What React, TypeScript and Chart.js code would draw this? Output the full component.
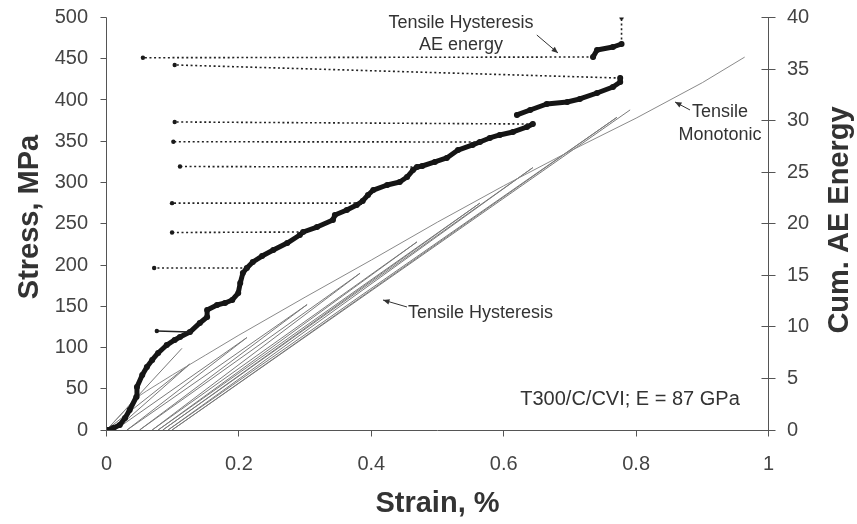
import React, { useEffect, useRef } from 'react';
import { Chart, registerables } from 'chart.js';

Chart.register(...registerables);

// ---- axis ticks ----
const strainTicks = [0, 0.2, 0.4, 0.6, 0.8, 1];
const stressTicks = [0, 50, 100, 150, 200, 250, 300, 350, 400, 450, 500];
const aeTicks = [0, 5, 10, 15, 20, 25, 30, 35, 40];

// ---- tensile monotonic (stress, MPa vs strain, %) ----
const monoStrain = [0, 0.02, 0.045, 0.06, 0.08, 0.1, 0.15, 0.2, 0.3, 0.4, 0.5, 0.6, 0.7, 0.8, 0.9, 0.964];
const monoStress = [0, 17, 39, 47, 57, 67, 91, 115, 161, 206, 252, 296, 338, 378, 421, 452];

// ---- elastic modulus line (E = 87 GPa) ----
const modStrain = [0, 0.114];
const modStress = [0, 99];

// ---- tensile hysteresis loops ----
const hystResidual = [0, 0.013, 0.031, 0.05, 0.069, 0.078, 0.085, 0.093, 0.099];
const hystPeakStrain = [0.126, 0.212, 0.303, 0.383, 0.469, 0.564, 0.644, 0.771, 0.791];
const hystPeakStress = [80, 112, 152, 190, 228, 275, 318, 379, 388];

// ---- cumulative AE energy (right axis) ----
const aeStrain = [
  0.001, 0.01, 0.02, 0.028, 0.035, 0.045, 0.046, 0.054, 0.061, 0.069, 0.078, 0.091, 0.103, 0.111, 0.126,
  0.141, 0.152, 0.152, 0.167, 0.179, 0.19, 0.199, 0.202, 0.206, 0.212, 0.221, 0.235, 0.252, 0.273, 0.292,
  0.297, 0.318, 0.342, 0.345, 0.363, 0.378, 0.387, 0.395, 0.403, 0.424, 0.443, 0.454, 0.463, 0.469, 0.477,
  0.496, 0.514, 0.531, 0.553, 0.564, 0.579, 0.594, 0.614, 0.635, 0.644, null,
  0.62, 0.64, 0.665, 0.696, 0.715, 0.741, 0.765, 0.776, 0.776, null,
  0.735, 0.741, 0.765, 0.778,
];
const aeEnergy = [
  0, 0.19, 0.48, 1.16, 1.94, 3.2, 4.17, 5.33, 6.11, 6.79, 7.47, 8.24, 8.73, 9.02, 9.5,
  10.38, 10.96, 11.64, 12.12, 12.32, 12.61, 13.28, 14.25, 15.22, 15.71, 16.29, 16.87, 17.45, 18.13, 18.91,
  19.2, 19.68, 20.36, 20.85, 21.33, 21.82, 22.21, 22.79, 23.27, 23.76, 24.05, 24.53, 25.21, 25.5, 25.6,
  25.99, 26.38, 27.15, 27.64, 27.93, 28.32, 28.61, 28.9, 29.38, 29.67, null,
  30.55, 31.03, 31.61, 31.81, 32.1, 32.68, 33.26, 33.75, 34.13, null,
  36.17, 36.85, 37.14, 37.43,
];

// unload / reload excursions of the AE record (constant energy while strain falls)
const aeLoopStartStrain = [0.126, 0.212, 0.297, 0.383, 0.469, 0.564, 0.644, 0.776, 0.735, 0.778];
const aeLoopStartEnergy = [9.5, 15.71, 19.2, 22.0, 25.5, 27.93, 29.67, 34.13, 36.17, 37.43];
const aeLoopEndStrain = [0.076, 0.072, 0.099, 0.099, 0.111, 0.101, 0.103, 0.103, 0.055, 0.778];
const aeLoopEndEnergy = [9.6, 15.71, 19.15, 22.0, 25.55, 27.95, 29.87, 35.4, 36.1, 40.0];

const FONT = '"Liberation Sans", Arial, Helvetica, sans-serif';
const TEXT = '#333333';

function pts(xs: (number | null)[], ys: (number | null)[]) {
  return xs.map((x, i) => ({ x: x == null ? NaN : x, y: ys[i] == null ? NaN : (ys[i] as number) }));
}

function hysteresisPath() {
  const out: { x: number; y: number }[] = [];
  for (let i = 0; i < hystPeakStrain.length; i++) {
    out.push({ x: hystResidual[i], y: 0 });
    out.push({ x: hystPeakStrain[i], y: hystPeakStress[i] });
  }
  return out;
}

function aeLoopPath() {
  const out: { x: number; y: number }[] = [];
  for (let i = 0; i < aeLoopStartStrain.length; i++) {
    out.push({ x: aeLoopStartStrain[i], y: aeLoopStartEnergy[i] });
    out.push({ x: aeLoopEndStrain[i], y: aeLoopEndEnergy[i] });
    out.push({ x: NaN, y: NaN });
  }
  return out;
}

function arrow(ctx: CanvasRenderingContext2D, x1: number, y1: number, x2: number, y2: number) {
  ctx.beginPath();
  ctx.moveTo(x1, y1);
  ctx.lineTo(x2, y2);
  ctx.stroke();
  const ang = Math.atan2(y2 - y1, x2 - x1);
  const h = 7;
  ctx.beginPath();
  ctx.moveTo(x2, y2);
  ctx.lineTo(x2 - h * Math.cos(ang - 0.4), y2 - h * Math.sin(ang - 0.4));
  ctx.lineTo(x2 - h * Math.cos(ang + 0.4), y2 - h * Math.sin(ang + 0.4));
  ctx.closePath();
  ctx.fill();
}

const decorPlugin = {
  id: 'decor',
  afterDraw(chart: any) {
    const { ctx, chartArea: a, scales } = chart;
    const sx = scales.x;
    const sy = scales.y;
    const s2 = scales.y2;
    ctx.save();
    ctx.strokeStyle = '#555';
    ctx.fillStyle = '#555';
    ctx.lineWidth = 1;
    const L = Math.floor(a.left) + 0.5;
    const R = Math.floor(a.right) + 0.5;
    const B = Math.floor(a.bottom) + 0.5;
    const T = Math.floor(a.top) + 0.5;
    ctx.beginPath();
    ctx.moveTo(L, T);
    ctx.lineTo(L, B);
    ctx.lineTo(R, B);
    ctx.moveTo(R, T);
    ctx.lineTo(R, B);
    for (const v of stressTicks) {
      const y = Math.floor(sy.getPixelForValue(v)) + 0.5;
      ctx.moveTo(L - 6, y);
      ctx.lineTo(L, y);
    }
    for (const v of aeTicks) {
      const y = Math.floor(s2.getPixelForValue(v)) + 0.5;
      ctx.moveTo(R - 7, y);
      ctx.lineTo(R + 7, y);
    }
    for (const v of strainTicks) {
      const x = Math.floor(sx.getPixelForValue(v)) + 0.5;
      ctx.moveTo(x, B);
      ctx.lineTo(x, B + 6);
    }
    ctx.stroke();

    // axis titles
    ctx.fillStyle = TEXT;
    ctx.font = `bold 29px ${FONT}`;
    ctx.textAlign = 'center';
    ctx.textBaseline = 'middle';
    ctx.save();
    ctx.translate(30, 217);
    ctx.rotate(-Math.PI / 2);
    ctx.fillText('Stress, MPa', 0, 0);
    ctx.restore();
    ctx.save();
    ctx.translate(840, 220);
    ctx.rotate(-Math.PI / 2);
    ctx.fillText('Cum. AE Energy', 0, 0);
    ctx.restore();
    ctx.fillText('Strain, %', (a.left + a.right) / 2, 504);

    // annotations (placed in data coordinates)
    const px = (v: number) => sx.getPixelForValue(v);
    const py = (v: number) => sy.getPixelForValue(v);
    ctx.font = `18px ${FONT}`;
    ctx.fillText('Tensile Hysteresis', px(0.5355), py(493.3));
    ctx.fillText('AE energy', px(0.5355), py(466.7));
    ctx.fillText('Tensile', px(0.9267), py(385.5));
    ctx.fillText('Monotonic', px(0.9267), py(357.6));
    ctx.textAlign = 'left';
    ctx.fillText('Tensile Hysteresis', px(0.4554), py(141.8));
    ctx.font = `20px ${FONT}`;
    ctx.textAlign = 'center';
    ctx.fillText('T300/C/CVI; E = 87 GPa', px(0.7908), py(36.4));

    ctx.strokeStyle = TEXT;
    ctx.fillStyle = TEXT;
    ctx.lineWidth = 1;
    arrow(ctx, px(0.65), py(478.8), px(0.682), py(457));
    arrow(ctx, px(0.8814), py(387.9), px(0.8588), py(397.6));
    arrow(ctx, px(0.4539), py(149.1), px(0.4177), py(157.6));
    ctx.restore();
  },
};

export default function App() {
  const ref = useRef<HTMLCanvasElement>(null);
  useEffect(() => {
    document.body.style.margin = '0';
    const tickFont = { family: FONT, size: 20 };
    const chart = new Chart(ref.current as HTMLCanvasElement, {
      type: 'scatter',
      data: {
        datasets: [
          {
            label: 'AE loops',
            data: aeLoopPath(),
            yAxisID: 'y2',
            showLine: true,
            borderColor: '#222',
            backgroundColor: '#1a1a1a',
            borderWidth: 1.6,
            pointRadius: 2.2,
            pointBorderWidth: 0,
            spanGaps: false,
            segment: {
              borderDash: (c: any) => (c.p0DataIndex === 0 ? [] : [2, 2.6]),
            },
          },
          {
            label: 'AE energy',
            data: pts(aeStrain, aeEnergy),
            yAxisID: 'y2',
            showLine: true,
            borderColor: '#151515',
            backgroundColor: '#151515',
            borderWidth: 5,
            borderCapStyle: 'round',
            borderJoinStyle: 'round',
            pointRadius: 3,
            pointBorderWidth: 0,
            spanGaps: false,
          },
          {
            label: 'Tensile Monotonic',
            data: pts(monoStrain, monoStress),
            yAxisID: 'y',
            showLine: true,
            borderColor: '#8a8a8a',
            borderWidth: 1,
            pointRadius: 0,
          },
          {
            label: 'Modulus',
            data: pts(modStrain, modStress),
            yAxisID: 'y',
            showLine: true,
            borderColor: '#777',
            borderWidth: 1,
            pointRadius: 0,
          },
          {
            label: 'Tensile Hysteresis',
            data: hysteresisPath(),
            yAxisID: 'y',
            showLine: true,
            borderColor: '#7a7a7a',
            borderWidth: 1,
            pointRadius: 0,
          },
        ],
      },
      options: {
        responsive: false,
        animation: false,
        layout: { padding: { top: 17.5, left: 0, right: 0, bottom: 0 } },
        plugins: { legend: { display: false }, tooltip: { enabled: false } },
        scales: {
          x: {
            type: 'linear',
            position: 'bottom',
            min: 0,
            max: 1,
            afterBuildTicks: (s: any) => {
              s.ticks = strainTicks.map((v) => ({ value: v }));
            },
            afterFit: (s: any) => {
              s.height = 94;
            },
            grid: { display: false, drawTicks: true, tickLength: 22 },
            border: { display: false },
            ticks: {
              padding: 0,
              maxRotation: 0,
              autoSkip: false,
              color: '#444',
              font: tickFont,
              callback: (v: any) => String(v),
            },
          },
          y: {
            type: 'linear',
            position: 'left',
            min: 0,
            max: 500,
            afterBuildTicks: (s: any) => {
              s.ticks = stressTicks.map((v) => ({ value: v }));
            },
            afterFit: (s: any) => {
              s.width = 106.5;
            },
            grid: { display: false, drawTicks: true, tickLength: 18.5 },
            border: { display: false },
            ticks: { padding: 0, autoSkip: false, color: '#444', font: tickFont, callback: (v: any) => String(v) },
          },
          y2: {
            type: 'linear',
            position: 'right',
            min: 0,
            max: 40,
            afterBuildTicks: (s: any) => {
              s.ticks = aeTicks.map((v) => ({ value: v }));
            },
            afterFit: (s: any) => {
              s.width = 88.5;
            },
            grid: { display: false, drawTicks: true, tickLength: 18.5 },
            border: { display: false },
            ticks: { padding: 0, autoSkip: false, color: '#444', font: tickFont, callback: (v: any) => String(v) },
          },
        },
      },
      plugins: [decorPlugin],
    } as any);
    return () => chart.destroy();
  }, []);
  return (
    <div style={{ width: 857, height: 524 }}>
      <canvas ref={ref} width={857} height={524} style={{ display: 'block' }} />
    </div>
  );
}
